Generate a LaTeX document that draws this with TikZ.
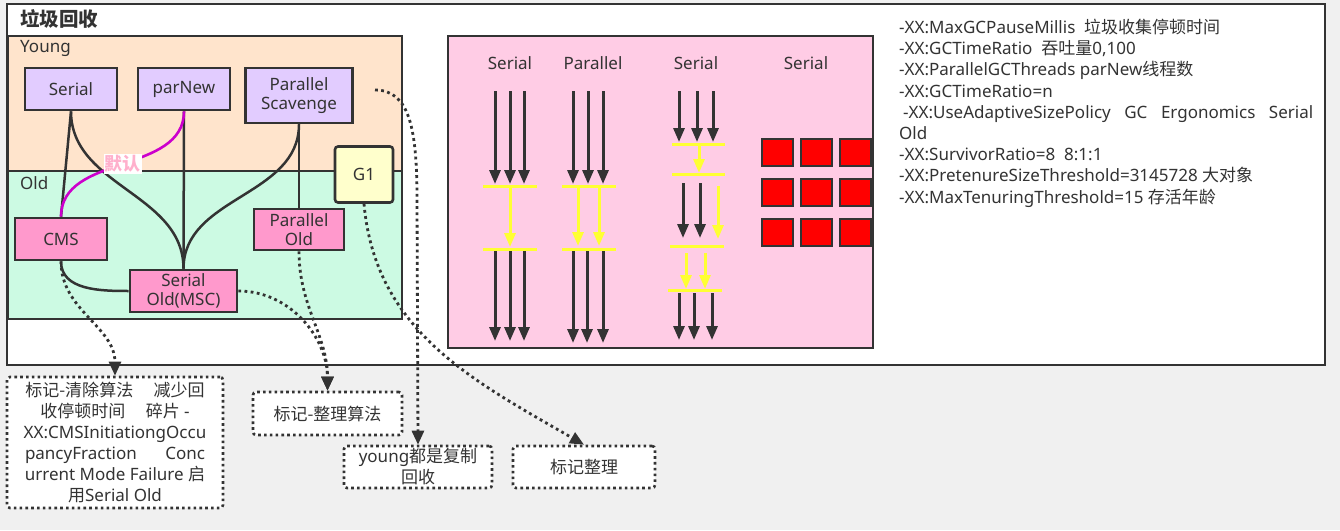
\documentclass[tikz,border=0pt]{standalone}
\usepackage{fontspec}
\setmainfont{Noto Sans}
\newfontfamily\cjk{Noto Sans CJK SC}
\usetikzlibrary{arrows.meta}
\definecolor{canvas}{HTML}{F0F0F0}
\definecolor{edgegray}{HTML}{333333}
\definecolor{youngbg}{HTML}{FFE4CC}
\definecolor{oldbg}{HTML}{CCFAE3}
\definecolor{newgen}{HTML}{E2CCFF}
\definecolor{oldgen}{HTML}{FF99CC}
\definecolor{gonebg}{HTML}{FFFFCC}
\definecolor{panelbg}{HTML}{FFCCE5}
\definecolor{defaultlink}{HTML}{CC00CC}
\definecolor{defaulttext}{HTML}{FFB0CC}
\definecolor{swline}{HTML}{FFFF33}
\definecolor{heapred}{HTML}{FF0000}

\begin{document}
\begin{tikzpicture}[x=1pt,y=-1pt,
    every node/.style={text=edgegray},
    gcbox/.style={draw=edgegray,line width=2.6pt,align=center,inner sep=0pt,
      font=\fontsize{17}{19}\selectfont},
    youngbox/.style={gcbox,fill=newgen},
    oldbox/.style={gcbox,fill=oldgen},
    wire/.style={draw=edgegray,line width=2.5pt},
    notebox/.style={draw=edgegray,fill=white,line width=2.6pt,dash pattern=on 2.6pt off 3.2pt,
      rounded corners=3pt,align=center,inner sep=0pt,font=\fontsize{17}{21}\selectfont},
    noteline/.style={draw=edgegray,line width=2.8pt,dash pattern=on 2.8pt off 3.4pt,
      -{Triangle[length=14pt,width=12pt]}},
    thread/.style={draw=edgegray,line width=3pt,-{Triangle[length=14pt,width=11pt]}},
    gcthread/.style={draw=swline,line width=3pt,-{Triangle[length=14pt,width=11pt]}},
    safepoint/.style={draw=swline,line width=3pt},
    heapcell/.style={draw=edgegray,fill=heapred,line width=2.6pt},
    label17/.style={font=\fontsize{17}{19}\selectfont}]
  \useasboundingbox (0,0) rectangle (1340,530);
  \fill[canvas] (0,0) rectangle (1340,530);
  \draw[edgegray,line width=2.6pt,fill=white] (7,4) rectangle (1325,365);
  \node[anchor=west,inner sep=0pt,font=\fontsize{19.5}{21}\cjk\bfseries] (title) at (20,19) {垃圾回收};

  \draw[edgegray,line width=2.6pt,fill=youngbg] (8,36) rectangle (402,171);
  \draw[edgegray,line width=2.6pt,fill=oldbg] (8,171) rectangle (402,319);
  \node[label17,anchor=west,inner sep=0pt] (younglbl) at (20,48) {Young};
  \node[label17,anchor=west,inner sep=0pt] (oldlbl) at (20,183) {Old};

  \node[youngbox,minimum width=92,minimum height=42] (serial) at (71,89) {Serial};
  \node[youngbox,minimum width=92,minimum height=42] (parnew) at (184,89) {parNew};
  \node[youngbox,minimum width=107,minimum height=55] (pscav) at (299,95.5) {Parallel\\Scavenge};
  \node[gcbox,fill=gonebg,rounded corners=3pt,minimum width=58,minimum height=56] (gone) at (364,174.5) {G1};
  \node[oldbox,minimum width=92,minimum height=42] (cms) at (61,239) {CMS};
  \node[oldbox,minimum width=90,minimum height=41] (parold) at (299,229.5) {Parallel\\Old};
  \node[oldbox,minimum width=107,minimum height=42] (serold) at (183.5,291) {Serial\\Old(MSC)};

  \draw[wire] (serial.south) -- (cms.north);
  \draw[wire] (serial.south) to[out=-90,in=90] (serold.north);
  \draw[wire] (parnew.south) -- (serold.north);
  \draw[wire] (pscav.south) to[out=-90,in=90] (serold.north);
  \draw[wire] (pscav.south) -- (parold.north);
  \draw[wire] (cms.south) to[out=-90,in=180] (serold.west);
  \draw[defaultlink,line width=2.6pt] (parnew.south) to[out=-90,in=90]
    node[fill=white,inner sep=1pt,text=defaulttext,font=\fontsize{18}{19}\cjk\bfseries] (deflabel) {默认} (cms.north);

  \node[notebox,minimum width=216,minimum height=131] (note1) at (115,442.5)
    {{\cjk 标记-清除算法\hspace{1.2em}减少回}\\{\cjk 收停顿时间\hspace{1.2em}碎片} -\\XX:CMSInitiationgOccu\\\makebox[180pt][s]{pancyFraction Conc}\\urrent Mode Failure {\cjk 启}\\{\cjk 用}Serial Old};
  \node[notebox,minimum width=149,minimum height=43] (note2) at (327.5,413.5) {\cjk 标记-整理算法};
  \node[notebox,minimum width=148,minimum height=42] (note3) at (418,467) {young{\cjk 都是复制}\\{\cjk 回收}};
  \node[notebox,minimum width=142,minimum height=42] (note4) at (584,467) {\cjk 标记整理};

  \coordinate (ystart) at (375,90);
  \draw[noteline] (ystart) .. controls (410,90) and (417,130) .. (417,200) -- (note3.north);
  \draw[noteline] (cms.south) to[out=-90,in=90] (note1.north);
  \draw[noteline] (serold.east) to[out=0,in=90] (note2.north);
  \draw[noteline] (parold.south) to[out=-90,in=90] (note2.north);
  \draw[noteline] (gone.south) to[out=-85,in=150] (note4.north);

  \draw[edgegray,line width=2.6pt,fill=panelbg] (448,36) rectangle (873,348);
  \node[label17] (mode1) at (510,63) {Serial};
  \node[label17] (mode2) at (593,63) {Parallel};
  \node[label17] (mode3) at (696,63) {Serial};
  \node[label17] (mode4) at (806,63) {Serial};

  \foreach \x in {495,510,524} \draw[thread] (\x,91) -- (\x,184);
  \draw[safepoint] (483,186) -- (537,186);
  \draw[gcthread] (510,187) -- (510,247);
  \draw[safepoint] (483,249) -- (537,249);
  \foreach \x in {495,510,524} \draw[thread] (\x,251) -- (\x,341);

  \foreach \x in {573,588,603} \draw[thread] (\x,91) -- (\x,184);
  \draw[safepoint] (562,186) -- (616,186);
  \foreach \x in {578,599} \draw[gcthread] (\x,187) -- (\x,246);
  \draw[safepoint] (562,249) -- (616,249);
  \foreach \x in {573,587,603} \draw[thread] (\x,251) -- (\x,343);

  \foreach \x in {679,697,713} \draw[thread] (\x,91) -- (\x,142);
  \draw[safepoint] (672,144) -- (725,144);
  \draw[gcthread] (699,145) -- (699,173);
  \draw[safepoint] (672,174) -- (725,174);
  \foreach \x in {683,700} \draw[thread] (\x,183) -- (\x,238);
  \draw[gcthread] (718,186) -- (718,239);
  \draw[safepoint] (670,246) -- (724,246);
  \foreach \x in {686,705} \draw[gcthread] (\x,253) -- (\x,289);
  \draw[safepoint] (668,290) -- (722,290);
  \foreach \x in {679,694,712} \draw[thread] (\x,293) -- (\x,340);

  \foreach \cx in {762,801,840}
    \foreach \cy in {139,179,219}
      \draw[heapcell] (\cx,\cy) rectangle ++(31,27);

  \node[anchor=north west,align=left,inner sep=0pt,font=\fontsize{17}{21.2}\selectfont] (flags) at (899,19)
    {-XX:MaxGCPauseMillis\ \ {\cjk 垃圾收集停顿时间}\\
     -XX:GCTimeRatio\ \ {\cjk 吞吐量}0,100\\
     -XX:ParallelGCThreads parNew{\cjk 线程数}\\
     -XX:GCTimeRatio=n\\
     \makebox[414pt][s]{\hspace{4pt}-XX:UseAdaptiveSizePolicy GC Ergonomics Serial}\\
     Old\\
     -XX:SurvivorRatio=8\ \ 8:1:1\\
     -XX:PretenureSizeThreshold=3145728 {\cjk 大对象}\\
     -XX:MaxTenuringThreshold=15 {\cjk 存活年龄}};
\end{tikzpicture}
\end{document}
